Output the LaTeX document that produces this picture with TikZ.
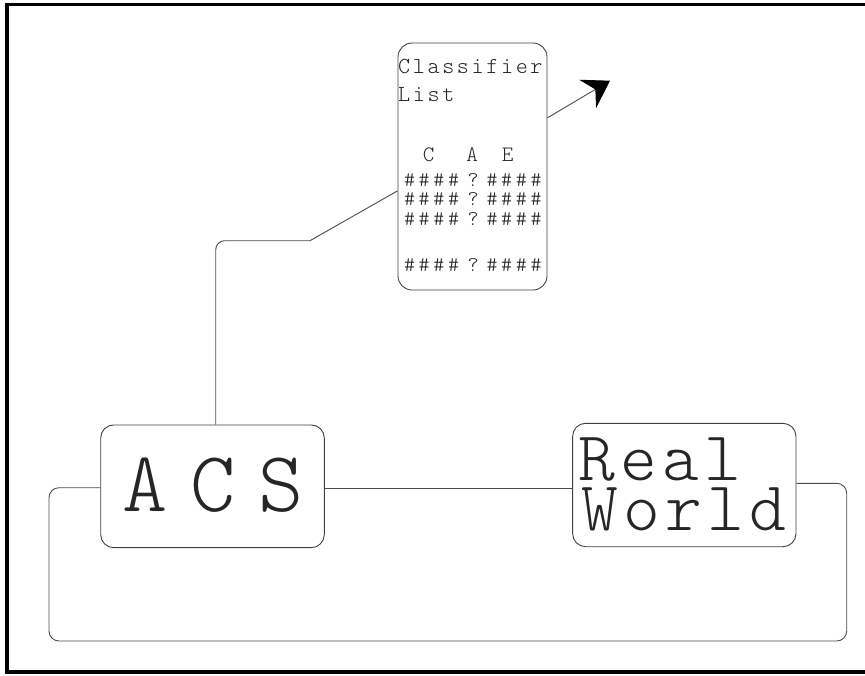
\documentclass[tikz,border=0pt]{standalone}
\usepackage{fontspec}
\usetikzlibrary{arrows.meta,calc}
\newfontfamily\lmm{lmmonolt10-regular.otf}
\tikzset{
  box/.style={draw=black!75, line width=0.9pt, rounded corners=14pt, inner sep=0pt},
  wire/.style={draw=black!70, line width=0.9pt},
  txt/.style={inner sep=0pt, anchor=base west, text=black!85},
  small/.style={txt, font=\lmm\addfontfeature{LetterSpace=11.4}\fontsize{23}{27}\selectfont},
  hrow/.style={txt, font=\lmm\fontsize{21}{27}\selectfont},
  big/.style={txt, font=\lmm\addfontfeature{LetterSpace=7.5}\fontsize{70}{70}\selectfont, text height=43pt, text depth=0pt},
}
\newcommand{\cc}[1]{\makebox[14.7pt]{#1}}
\newcommand{\hashrow}{\cc{\#}\cc{\#}\cc{\#}\cc{\#}\kern4.7pt\cc{?}\kern4.3pt\cc{\#}\cc{\#}\cc{\#}\cc{\#}}
\begin{document}
\begin{tikzpicture}[x=1pt,y=-1pt]
\useasboundingbox (0,0) rectangle (865,675);
\draw[line width=3.5pt] (867,4.5) -- (7,4.5) -- (7,672) -- (867,672);

% boxes
\node[box, minimum width=149pt, minimum height=247pt] (cls) at (472.5,166.5) {};
\node[box, minimum width=223.6pt, minimum height=122.7pt, rounded corners=13pt] (acs) at (212.5,486.3) {};
\node[box, minimum width=223.3pt, minimum height=123.4pt, rounded corners=13pt] (rw) at (684.3,485) {};

% classifier text
\node[small] (t1) at (398,73) {Classifier};
\node[small] (t2) at (398,101) {List};
\node[hrow, font=\lmm\fontsize{22}{27}\selectfont] (hd) at (421,161.7) {\cc{C}\kern29pt\cc{A}\kern20.6pt\cc{E}};
\node[hrow] (r1) at (402,186) {\hashrow};
\node[hrow] (r2) at (402,205.7) {\hashrow};
\node[hrow] (r3) at (402,225) {\hashrow};
\node[hrow] (r4) at (402,271.7) {\hashrow};

% ACS text
\node[txt, font=\lmm\addfontfeature{LetterSpace=26.6}\fontsize{86}{86}\selectfont] (ta) at (122.4,511) {ACS};

% Real World text
\node[big] (rw1) at (578.3,480.7) {Real};
\node[big] (rw2) at (581.6,530.7) {World};

% connectors
\coordinate (k1) at (215.7,240.7);
\coordinate (k2) at (310,240.7);
\coordinate (tip) at (610,80.7);
\draw[wire, rounded corners=9pt] ([xshift=3.2pt]acs.north) -- (k1) -- (k2);
\draw[wire] (k2) -- (cls.198.7);
\draw[wire, -{Stealth[length=26pt,width=33pt,inset=9pt,color=black]}] (cls.33.6) -- (tip);
\draw[wire] ([yshift=-1.7pt]acs.east) -- ([yshift=-1.7pt]acs.east -| rw.west);

\coordinate (l1) at (49,487.7);
\coordinate (l2) at (49,641);
\coordinate (l3) at (846.7,641);
\coordinate (l4) at (846.7,483.3);
\draw[wire, rounded corners=10pt] ([yshift=-1.4pt]acs.west) -- (l1) -- (l2) -- (l3) -- (l4) -- (l4 -| rw.east);
\end{tikzpicture}
\end{document}
